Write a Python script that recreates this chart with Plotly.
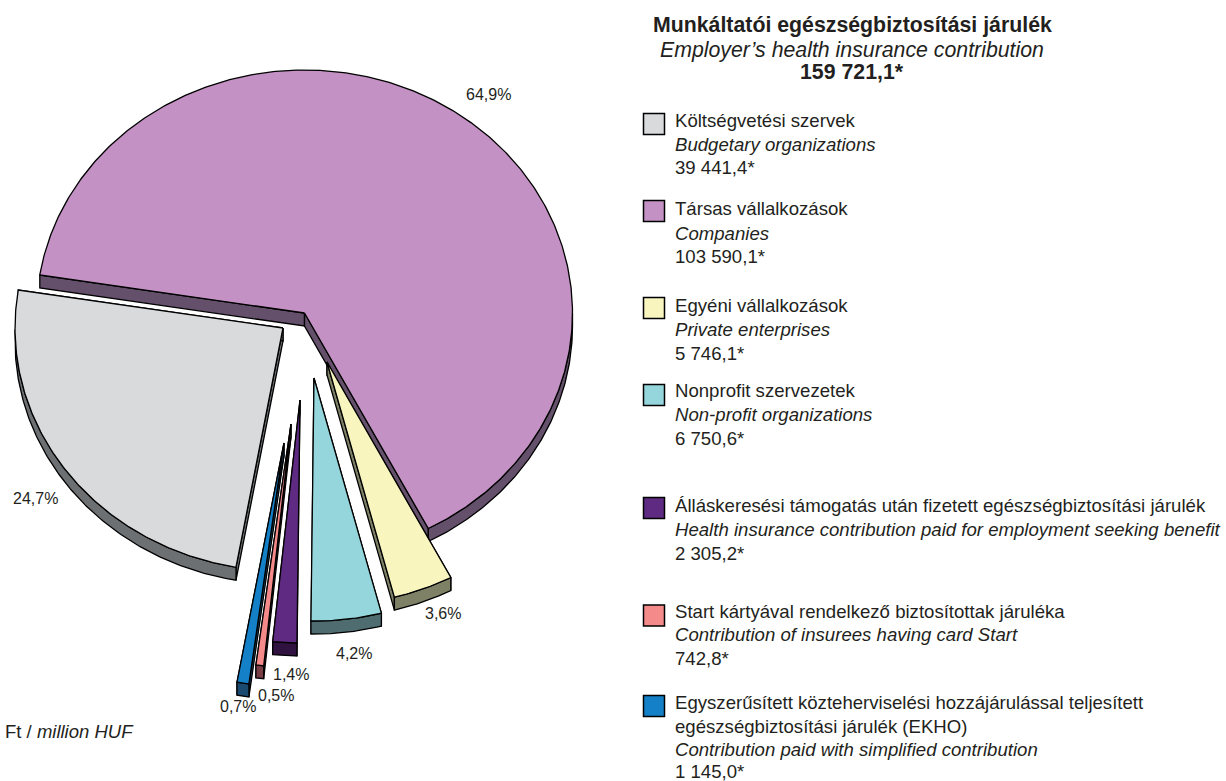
import numpy as np
import plotly.graph_objects as go

# ---- data ----
names_hu = ["Társas vállalkozások", "Egyéni vállalkozások", "Nonprofit szervezetek",
            "Álláskeresési támogatás", "Start kártya", "EKHO", "Költségvetési szervek"]
values = [103590.1, 5746.1, 6750.6, 2305.2, 742.8, 1145.0, 39441.4]
pct_labels = ["64,9%", "3,6%", "4,2%", "1,4%", "0,5%", "0,7%", "24,7%"]
top_colors = ["#c391c3", "#f8f5bf", "#95d6dd", "#5f2a82", "#f58a8a", "#1480c8", "#d9dadc"]
wall_colors = ["#65506c", "#7f8167", "#4f6d71", "#2f1240", "#7a3f45", "#1a4a70", "#6d7072"]

# ---- pie styling (explosion per slice in px) ----
explode = [(0, 0), (22.5, 49), (9.5, 65), (-4.5, 87), (-13.5, 111), (-20.5, 130), (-21.5, 15)]
label_pos = [(488, 94), (443, 613), (354, 653), (291, 674), (276, 695), (238, 706), (35, 498)]
CX, CY, RX, RY, DEPTH = 304.5, 313, 268, 243, 13
START = 279

def ell(t, ox, oy, d=0):
    r = np.radians(t)
    return ox + CX + RX * np.sin(r), oy + CY - RY * np.cos(r) + d

fig = go.Figure()
def poly(xs, ys, color, width=1.3):
    fig.add_trace(go.Scatter(x=list(xs), y=list(ys), mode="lines", fill="toself", fillcolor=color,
                             line=dict(color="black", width=width), hoverinfo="skip", showlegend=False))

total = sum(values)
angle = START
for v, top, wall, (ox, oy) in zip(values, top_colors, wall_colors, explode):
    sweep = v / total * 360
    a0, a1 = angle, angle + sweep
    angle = a1
    ts = np.linspace(a0, a1, max(int(sweep * 2), 6))
    ax, ay = ox + CX, oy + CY
    # straight cut walls
    for t in (a0, a1):
        ex, ey = ell(t, ox, oy)
        poly([ax, ex, ex, ax, ax], [ay, ey, ey + DEPTH, ay + DEPTH, ay], wall)
    # outer rim wall (only the downward-facing part)
    lo = np.r_[np.arange(a0, a1, .5), a1]
    lo = lo[(np.mod(lo, 360) >= 90) & (np.mod(lo, 360) <= 270)]
    if len(lo) > 1:
        ex, ey = ell(lo, ox, oy)
        poly(np.r_[ex, ex[::-1], ex[0]], np.r_[ey, ey[::-1] + DEPTH, ey[0]], wall)
    # top surface
    ex, ey = ell(ts, ox, oy)
    poly(np.r_[ax, ex, ax], np.r_[ay, ey, ay], top)

# ---- legend ----
legend_colors = ["#d9dadc", "#c391c3", "#f8f5bf", "#95d6dd", "#5f2a82", "#f58a8a", "#1480c8"]
legend_y = [124, 211, 308, 395, 508, 615.5, 706]
fig.add_trace(go.Scatter(x=[654] * 7, y=legend_y, mode="markers", hoverinfo="skip", showlegend=False,
                         marker=dict(symbol="square", size=21, color=legend_colors,
                                     line=dict(color="black", width=1.5))))

FONT = "Liberation Sans"
def text(x, y, s, size=18.6, anchor="left"):
    fig.add_annotation(x=x, y=y, text=s, showarrow=False, xanchor=anchor, yanchor="middle", borderpad=0,
                       font=dict(family=FONT, size=size, color="#231f20"))

title_lines = [(25, "<b>Munkáltatói egészségbiztosítási járulék</b>"),
               (50, "<i>Employer’s health insurance contribution</i>"),
               (72, "<b>159 721,1*</b>")]
for y, s in title_lines:
    text(852, y, s, size=21.3, anchor="center")

legend_lines = [
    (120, "Költségvetési szervek"), (144, "<i>Budgetary organizations</i>"), (167, "39 441,4*"),
    (208, "Társas vállalkozások"), (233, "<i>Companies</i>"), (256, "103 590,1*"),
    (305, "Egyéni vállalkozások"), (329, "<i>Private enterprises</i>"), (353, "5 746,1*"),
    (390, "Nonprofit szervezetek"), (414, "<i>Non-profit organizations</i>"), (438, "6 750,6*"),
    (505, "Álláskeresési támogatás után fizetett egészségbiztosítási járulék"),
    (529, "<i>Health insurance contribution paid for employment seeking benefit</i>"), (553, "2 305,2*"),
    (611, "Start kártyával rendelkező biztosítottak járuléka"),
    (634, "<i>Contribution of insurees having card Start</i>"), (658, "742,8*"),
    (702, "Egyszerűsített közteherviselési hozzájárulással teljesített"),
    (726, "egészségbiztosítási járulék (EKHO)"),
    (749, "<i>Contribution paid with simplified contribution</i>"), (771, "1 145,0*"),
]
for y, s in legend_lines:
    text(674, y, s)

for (x, y), s in zip(label_pos, pct_labels):
    text(x, y, s, size=16, anchor="center")
text(4, 731, "Ft / <i>million HUF</i>", size=18.5)

fig.update_xaxes(visible=False, range=[0, 1226], fixedrange=True)
fig.update_yaxes(visible=False, range=[781, 0], fixedrange=True)
fig.update_layout(width=1226, height=781, margin=dict(l=0, r=0, t=0, b=0),
                  paper_bgcolor="white", plot_bgcolor="white")
fig.write_html("out.html", config=dict(displayModeBar=False),
               post_script="document.body.style.margin='0';document.body.style.overflow='hidden';")
